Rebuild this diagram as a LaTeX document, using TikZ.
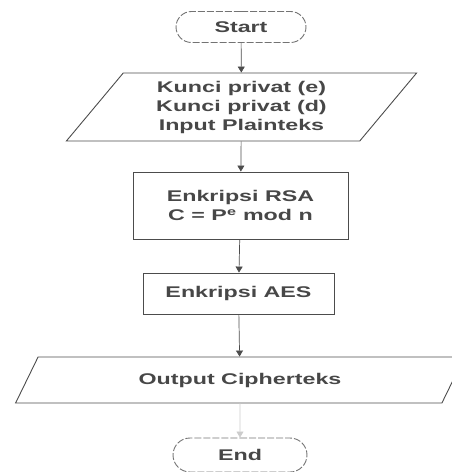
\documentclass[tikz,border=0pt]{standalone}
\usepackage{fontspec}
\setmainfont[FakeStretch=1.5]{Liberation Sans}
\usetikzlibrary{shapes.geometric,shapes.misc,arrows.meta}
\tikzset{
  base/.style={draw=black!70, line width=0.9pt, text=black!72,
    font=\fontsize{15.5}{19}\selectfont\bfseries, align=center, inner sep=0pt},
  term/.style={base, rounded rectangle, dash pattern=on 7pt off 2pt,
    draw=black!55},
  io/.style={base, trapezium, trapezium left angle=52, trapezium right angle=128,
    trapezium stretches=true},
  proc/.style={base, rectangle},
  flow/.style={draw=black!70, line width=0.7pt,
    -{Triangle[length=6pt,width=7pt]}},
}
\begin{document}
\begin{tikzpicture}[x=1pt,y=-1pt]
  \useasboundingbox (0,0) rectangle (452,472);
  \node[term, minimum width=130pt, minimum height=31pt] (start) at (241,27) {Start};
  \node[io, minimum width=351pt, minimum height=68pt] (in) at (241.5,107)
    {Kunci privat (e)\\Kunci privat (d)\\Input Plainteks};
  \node[proc, minimum width=215pt, minimum height=67pt] (rsa) at (240.5,205.5)
    {Enkripsi RSA\\C = P\textsuperscript{e} mod n};
  \node[proc, minimum width=191pt, minimum height=41pt] (aes) at (238.5,293.5)
    {Enkripsi AES};
  \node[io, minimum width=450pt, minimum height=46pt] (out) at (240,380)
    {Output Cipherteks};
  \node[term, minimum width=134pt, minimum height=34pt] (end) at (240,455) {End};

  \draw[flow] (start) -- (in);
  \draw[flow] (in) -- (rsa);
  \draw[flow] (rsa) -- (aes);
  \draw[flow] (aes) -- (out);
  \draw[flow, draw=black!20] (out) -- (end);
\end{tikzpicture}
\end{document}
